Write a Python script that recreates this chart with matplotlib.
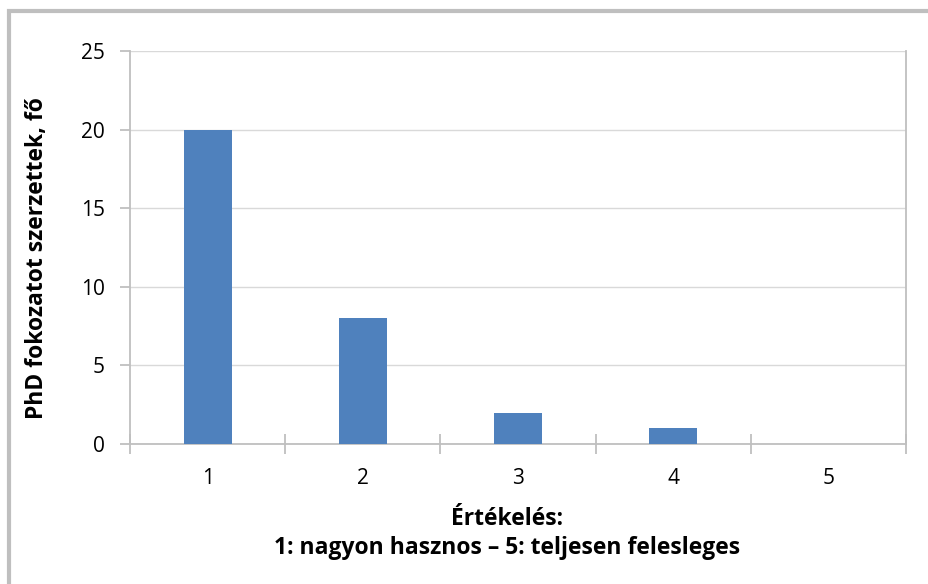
import matplotlib
matplotlib.use("Agg")
import matplotlib.pyplot as plt
from matplotlib.patches import Rectangle

# data
categories = ["1", "2", "3", "4", "5"]
counts = [20, 8, 2, 1, 0]
y_ticks = [0, 5, 10, 15, 20, 25]

bar_color = "#4F81BD"
axis_color = "#BFBFBF"
grid_color = "#D9D9D9"

plt.rcParams['font.family'] = ['Open Sans', 'DejaVu Sans']

fig = plt.figure(figsize=(9.29, 5.84), dpi=100)
ax = fig.add_axes([130 / 929, 1 - 444 / 584, (906 - 130) / 929, (444 - 51) / 584])

x = list(range(len(categories)))
ax.bar(x, counts, width=0.31, color=bar_color, zorder=3)

ax.set_xlim(-0.5, len(categories) - 0.5)
ax.set_ylim(0, 25)
ax.set_yticks(y_ticks)
ax.set_yticklabels([str(v) for v in y_ticks], fontsize=15)
ax.set_xticks(x)
ax.set_xticklabels(categories, fontsize=15)
ax.tick_params(axis='x', length=0, pad=17)
ax.tick_params(axis='y', length=7, color=axis_color, width=1.3, pad=11)

# category separator ticks on x axis
ax.set_xticks([i - 0.5 for i in range(len(categories) + 1)], minor=True)
ax.tick_params(axis='x', which='minor', direction='inout', length=14,
               color=axis_color, width=1.3)

ax.yaxis.grid(True, color=grid_color, linewidth=1, zorder=0)
ax.spines['top'].set_visible(False)
for side in ['right', 'left', 'bottom']:
    ax.spines[side].set_color(axis_color)
    ax.spines[side].set_linewidth(1.3)

fig.text(37 / 929, 1 - 258 / 584, "PhD fokozatot szerzettek, fő", rotation=90,
         ha='center', va='center', fontsize=16.5, fontweight='bold')

fig.text(507 / 929, 1 - 519 / 584, "Értékelés:", ha='center', va='center',
         fontsize=16.5, fontweight='bold')
fig.text(507 / 929, 1 - 548 / 584, "1: nagyon hasznos – 5: teljesen felesleges",
         ha='center', va='center', fontsize=16.5, fontweight='bold')

# outer chart border
fig.patches.append(Rectangle((9.5 / 929, -0.05), 1.1, 1 - 11 / 584 + 0.05,
                             transform=fig.transFigure, fill=False,
                             edgecolor="#BFBFBF", linewidth=3))

fig.savefig("out.png", dpi=100)
